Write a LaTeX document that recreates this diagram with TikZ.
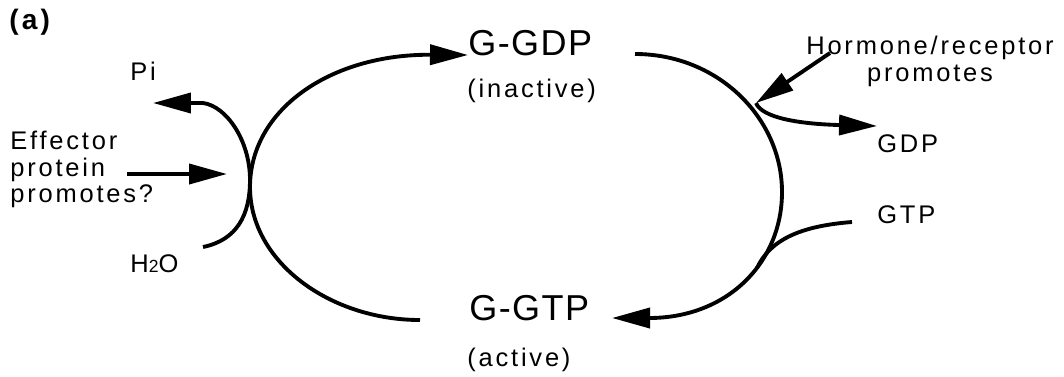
\documentclass[tikz,border=0pt]{standalone}
\usepackage{fontspec}
\setmainfont{Liberation Sans}[LetterSpace=11]
\newfontfamily\statefont{Liberation Sans}[LetterSpace=4]
\usetikzlibrary{arrows.meta}

\tikzset{
  lbl/.style={font=\fontsize{14.5}{15}\selectfont, inner sep=0pt},
  state/.style={font=\statefont\fontsize{20.5}{22}\selectfont, inner sep=0pt, anchor=base west},
  plainline/.style={line width=2.2pt},
  flow/.style={line width=2.2pt, -{Triangle[length=7.6mm,width=4mm]}},
}

\begin{document}
\begin{tikzpicture}[x=0.02cm, y=-0.02cm]
\useasboundingbox (0,0) rectangle (1064,376);

\node[lbl, font=\bfseries\fontsize{16}{16}\selectfont, anchor=west] (panel) at (9,22) {(a)};

% G protein states
\node[state] (ggdp) at (468,55) {G-GDP};
\node[lbl, anchor=base west] (inactive) at (467,97) {(inactive)};
\node[state] (ggtp) at (469,320) {G-GTP};
\node[lbl, anchor=base west] (active) at (467,366) {(active)};

% small labels
\foreach \n/\x/\y/\t in {pi/130/80/Pi, gdp/877/152/GDP, gtp/877/223/GTP}{
    \node[lbl, anchor=base west] (\n) at (\x,\y) {\t};
}
\node[lbl, anchor=base west] (water) at (130,272) {H{\fontsize{10}{10}\selectfont 2}O};
\node[lbl, align=left, anchor=north west] (effector) at (10,131) {Effector\\protein\\promotes?};
\node[lbl, align=center, anchor=north] (hormone) at (930,36) {Hormone/receptor\\promotes};

\coordinate (lft) at (250,187);
\coordinate (rgt) at (782,192);
\coordinate (gtpL) at (420,320);
\coordinate (gdpR) at (635,54);
\coordinate (gtptip) at (612,318);
\coordinate (hstart) at (830,53);
\coordinate (hook) at (756,103);
\coordinate (gdptip) at (877,126);
\coordinate (gtpin) at (852,222);
\coordinate (gtpend) at (757,268);
\coordinate (wstart) at (203,247);
\coordinate (touch) at (250,180);
\coordinate (pitip) at (153,103);
\coordinate (estart) at (127,174);
\coordinate (etip) at (227,174);

% Cycle lines
\draw[flow] (gtpL) .. controls (330,320) and (250,262) .. (lft)
    .. controls (250,110) and (330,54) .. (ggdp.base west);
\draw[flow] (gdpR) .. controls (718,54) and (782,118) .. (rgt)
    .. controls (782,262) and (728,318) .. (gtptip);

% Hydrolysis
\draw[flow] (wstart) .. controls (237,240) and (250,215) .. (touch)
    .. controls (250,140) and (226,106) .. (203,103) -- (pitip);
\draw[flow] (estart) -- (etip);

% Exchange
\draw[flow] (hstart) -- (hook);
\draw[flow] (hook) .. controls (762,118) and (800,124) .. (gdptip);
\draw[plainline] (gtpin) .. controls (800,226) and (770,240) .. (gtpend);

\end{tikzpicture}
\end{document}
